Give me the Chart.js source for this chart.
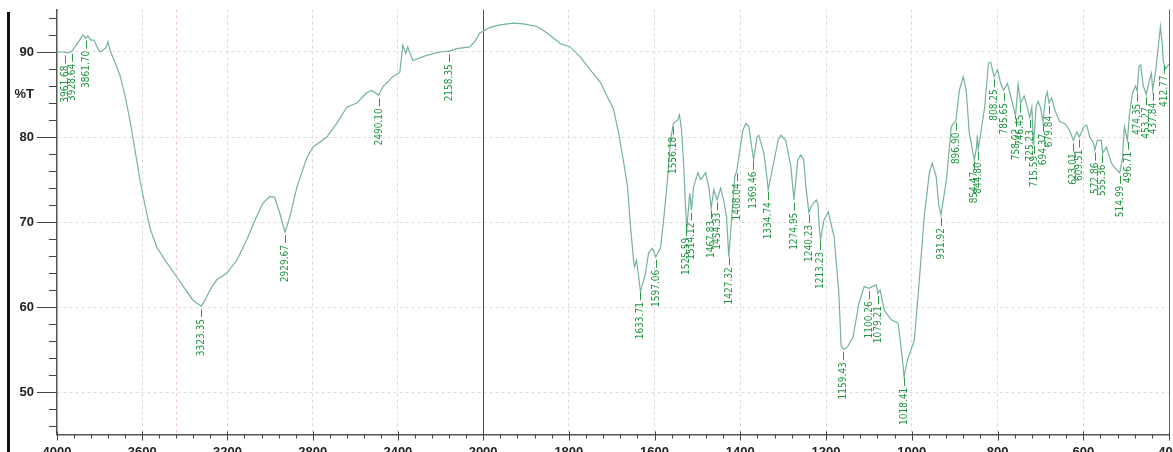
<!DOCTYPE html>
<html>
<head>
<meta charset="utf-8">
<title>IR spectrum</title>
<script src="https://cdn.jsdelivr.net/npm/chart.js@4.4.1/dist/chart.umd.min.js"></script>
<style>
  html, body { margin: 0; padding: 0; background: #fff; overflow: hidden; }
  #wrap { position: relative; width: 1173px; height: 452px; overflow: hidden; }
  #frame { position: absolute; left: 7px; top: 12px; width: 3px; height: 440px; background: #111; }
  canvas { position: absolute; left: 0; top: 0; }
</style>
</head>
<body>
<div id="wrap">
  <div id="frame"></div>
  <canvas id="ir" width="1173" height="472"></canvas>
</div>
<script>
// ---- data (wavenumber cm-1, %T) ----
const wavenumbers = [
  4000, 3977, 3948, 3930, 3902, 3878, 3864, 3855, 3841, 3826, 3812, 3798, 3784, 3770, 3761, 3751,
  3728, 3705, 3681, 3658, 3634, 3611, 3587, 3564, 3531, 3484, 3437, 3390, 3362, 3323, 3305, 3282,
  3250, 3203, 3156, 3109, 3071, 3034, 3001, 2978, 2954, 2930, 2907, 2874, 2827, 2799, 2734, 2687,
  2640, 2593, 2546, 2523, 2490, 2471, 2424, 2391, 2377, 2363, 2354, 2330, 2265, 2204, 2158, 2124,
  2063, 2040, 2016, 1984, 1960, 1930, 1906, 1874, 1850, 1820, 1797, 1773, 1750, 1726, 1710, 1696,
  1684, 1673, 1663, 1656, 1649, 1647, 1642, 1637, 1633, 1621, 1614, 1605, 1597, 1586, 1579, 1570,
  1563, 1556, 1546, 1542, 1537, 1532, 1528, 1525, 1518, 1514, 1509, 1499, 1492, 1481, 1473, 1468,
  1462, 1454, 1446, 1439, 1432, 1427, 1420, 1413, 1408, 1401, 1394, 1387, 1380, 1374, 1369, 1361,
  1357, 1345, 1338, 1335, 1324, 1312, 1305, 1294, 1282, 1275, 1266, 1259, 1252, 1247, 1240, 1235,
  1223, 1219, 1216, 1213, 1205, 1195, 1181, 1170, 1165, 1159, 1150, 1137, 1123, 1111, 1100, 1083,
  1079, 1074, 1064, 1048, 1032, 1025, 1020, 1018, 1010, 994, 983, 971, 959, 952, 943, 937,
  932, 919, 908, 897, 889, 880, 873, 866, 854, 849, 847, 845, 830, 821, 816, 808,
  800, 793, 786, 777, 770, 762, 758, 752, 746, 738, 732, 725, 720, 716, 710, 705,
  700, 694, 688, 684, 680, 674, 665, 655, 643, 632, 623, 615, 609, 599, 592, 585,
  576, 573, 567, 558, 555, 546, 534, 527, 515, 509, 504, 497, 492, 485, 478, 474,
  470, 466, 460, 453, 447, 441, 438, 430, 420, 416, 413, 408, 404, 400
];
const transmittance = [
  90.0, 90.0, 89.9, 90.1, 91.1, 92.0, 91.6, 91.9, 91.4, 91.4, 90.6, 90.0, 90.2, 90.5, 91.2, 90.2,
  88.8, 87.3, 84.9, 82.0, 78.5, 75.0, 72.0, 69.3, 67.0, 65.2, 63.5, 61.8, 60.8, 60.1, 60.8, 62.0,
  63.2, 64.0, 65.5, 67.9, 70.2, 72.2, 73.0, 72.9, 71.0, 68.8, 70.6, 74.1, 77.6, 78.8, 80.0, 81.6,
  83.5, 84.0, 85.2, 85.5, 84.9, 85.9, 87.1, 87.6, 90.8, 89.8, 90.6, 89.0, 89.6, 90.0, 90.1, 90.4,
  90.6, 91.2, 92.2, 92.9, 93.2, 93.4, 93.3, 93.0, 92.2, 91.0, 90.6, 89.4, 87.9, 86.4, 84.7, 83.3,
  80.5, 77.3, 74.1, 69.4, 65.5, 64.7, 65.5, 63.5, 61.8, 64.0, 66.4, 66.9, 65.9, 67.0, 70.2, 74.9,
  79.6, 81.6, 82.0, 82.6, 80.8, 76.5, 72.0, 69.1, 73.4, 71.4, 74.1, 75.8, 75.0, 75.8, 74.0, 71.6,
  73.8, 72.6, 74.0, 72.6, 70.6, 65.9, 70.6, 75.3, 76.1, 78.5, 80.8, 81.6, 81.2, 79.0, 77.3, 80.0,
  80.2, 78.1, 75.3, 73.8, 76.5, 79.6, 80.2, 79.6, 76.5, 72.6, 77.3, 77.9, 77.3, 74.1, 71.1, 71.8,
  72.6, 72.2, 69.4, 67.9, 70.2, 71.2, 68.2, 61.5, 55.5, 55.0, 55.3, 56.5, 60.5, 62.4, 62.2, 62.6,
  61.6, 62.0, 59.6, 58.5, 58.1, 55.3, 52.9, 51.8, 53.8, 56.1, 62.8, 70.6, 75.8, 76.9, 75.3, 72.0,
  70.8, 75.0, 81.2, 82.0, 85.5, 87.1, 85.5, 80.5, 77.3, 78.8, 80.2, 78.5, 83.5, 88.7, 88.8, 87.1,
  87.9, 86.4, 85.5, 86.3, 85.0, 83.3, 82.5, 86.2, 84.0, 84.8, 83.8, 82.3, 83.5, 79.0, 83.6, 84.2,
  83.5, 81.8, 84.6, 85.3, 84.0, 84.6, 83.0, 81.8, 81.6, 80.8, 79.6, 80.6, 80.0, 81.2, 81.4, 80.0,
  79.3, 78.5, 79.6, 79.6, 78.1, 78.8, 76.9, 76.4, 75.8, 77.3, 81.2, 79.6, 82.8, 85.2, 86.0, 85.4,
  88.3, 88.5, 86.0, 85.0, 86.4, 87.5, 85.5, 88.2, 93.0, 91.0, 88.8, 88.0, 88.3, 88.6
];

// peak picks printed on the spectrum
const peakLabels = [
  3961.68, 3928.64, 3861.70, 3323.35, 2929.67, 2490.10, 2158.35,
  1633.71, 1597.06, 1556.18, 1525.59, 1514.12, 1467.83, 1454.33, 1427.32, 1408.04,
  1369.46, 1334.74, 1274.95, 1240.23, 1213.23, 1159.43, 1100.26, 1079.21, 1018.41,
  931.92, 896.90, 854.47, 844.80, 808.25, 785.65, 758.02, 746.45, 725.23, 715.59,
  694.37, 679.84, 623.01, 609.51, 572.86, 555.36, 514.99, 496.71, 474.35, 453.27,
  437.84, 412.77
];

// axis ticks
const xMajorTicks = [4000, 3600, 3200, 2800, 2400, 2000, 1800, 1600, 1400, 1200, 1000, 800, 600, 400];
const yMajorTicks = [50, 60, 70, 80, 90];
const yMinorTicks = [46, 48, 52, 54, 56, 58, 62, 64, 66, 68, 72, 74, 76, 78, 82, 84, 86, 88, 92, 94];
const yUnitTick = 85;   // where the "%T" label sits

// ---- IR abscissa: 4000-2000 compressed to about half the scale of 2000-400 ----
const BREAK = 2000;
const HIGH_SPAN = 994;   // width of the 4000-2000 part, in units of the low part
function irPos(w) { return w >= BREAK ? (4000 - w) * HIGH_SPAN / 2000 : HIGH_SPAN + (BREAK - w); }
const IR_SPAN = irPos(400);

function xTickValues() {
  const out = [];
  for (let i = 0; i < xMajorTicks.length - 1; i++) {
    const a = xMajorTicks[i], b = xMajorTicks[i + 1];
    for (let k = 0; k < 5; k++) out.push(a - (a - b) * k / 5);
  }
  out.push(400);
  return out;
}

class IrScale extends Chart.LinearScale {
  buildTicks() {
    return xTickValues().map(v => ({ value: v, major: xMajorTicks.includes(v) }));
  }
  getPixelForValue(value) {
    return this.getPixelForDecimal(irPos(value) / IR_SPAN);
  }
  getValueForPixel(pixel) {
    const p = this.getDecimalForPixel(pixel) * IR_SPAN;
    return p <= HIGH_SPAN ? 4000 - p * 2000 / HIGH_SPAN : BREAK - (p - HIGH_SPAN);
  }
}
IrScale.id = 'ir';
IrScale.defaults = Chart.LinearScale.defaults;
Chart.register(IrScale);

function tAt(w) {
  for (let i = 0; i < wavenumbers.length - 1; i++) {
    const a = wavenumbers[i], b = wavenumbers[i + 1];
    if (w <= a && w >= b) {
      const f = (a - w) / (a - b);
      return transmittance[i] + f * (transmittance[i + 1] - transmittance[i]);
    }
  }
  return transmittance[transmittance.length - 1];
}

// tick marks, the 2000 split line, frame
const axisDecor = {
  id: 'axisDecor',
  beforeDatasetsDraw(chart) {
    const { ctx, chartArea: area, scales: { x, y } } = chart;
    ctx.save();
    // faint pink cursor line
    ctx.strokeStyle = 'rgba(230,150,190,0.55)';
    ctx.setLineDash([3, 3]);
    ctx.lineWidth = 1;
    const pinkX = Math.round(x.getPixelForValue(3440)) + 0.5;
    ctx.beginPath(); ctx.moveTo(pinkX, area.top); ctx.lineTo(pinkX, area.bottom); ctx.stroke();
    ctx.setLineDash([]);
    // scale change at 2000
    ctx.strokeStyle = '#555';
    const bx = Math.round(x.getPixelForValue(BREAK)) + 0.5;
    ctx.beginPath(); ctx.moveTo(bx, area.top); ctx.lineTo(bx, area.bottom + 4); ctx.stroke();
    // right frame
    ctx.strokeStyle = '#666';
    ctx.beginPath(); ctx.moveTo(area.right + 0.5, area.top); ctx.lineTo(area.right + 0.5, area.bottom); ctx.stroke();
    // x tick marks
    ctx.strokeStyle = '#444';
    x.ticks.forEach(t => {
      const px = Math.round(x.getPixelForValue(t.value)) + 0.5;
      ctx.beginPath();
      ctx.moveTo(px, area.bottom - (t.major ? 3 : 0));
      ctx.lineTo(px, area.bottom + (t.major ? 6 : 4));
      ctx.stroke();
    });
    // y tick marks
    y.ticks.forEach(t => {
      if (t.value === yUnitTick) return;
      const py = Math.round(y.getPixelForValue(t.value)) + 0.5;
      const len = yMajorTicks.includes(t.value) ? 20 : 8;
      ctx.beginPath(); ctx.moveTo(area.left - len, py); ctx.lineTo(area.left, py); ctx.stroke();
    });
    ctx.restore();
  }
};

// rotated peak labels under each pick
const peakText = {
  id: 'peakText',
  afterDatasetsDraw(chart) {
    const { ctx, scales: { x, y } } = chart;
    ctx.save();
    ctx.strokeStyle = '#2a9a45';
    ctx.fillStyle = '#1f9440';
    ctx.lineWidth = 1;
    ctx.font = '10px "Liberation Sans Narrow", "DejaVu Sans Condensed", "Liberation Sans", sans-serif';
    ctx.textAlign = 'right';
    ctx.textBaseline = 'middle';
    peakLabels.forEach(w => {
      const px = Math.round(x.getPixelForValue(w)) + 0.5;
      const py = y.getPixelForValue(tAt(w));
      ctx.beginPath(); ctx.moveTo(px, py + 3); ctx.lineTo(px, py + 11); ctx.stroke();
      ctx.save();
      ctx.translate(px, py + 13);
      ctx.rotate(-Math.PI / 2);
      ctx.fillText(w.toFixed(2), 0, 0);
      ctx.restore();
    });
    ctx.restore();
  }
};

new Chart(document.getElementById('ir'), {
  type: 'line',
  data: {
    datasets: [{
      data: wavenumbers.map((w, i) => ({ x: w, y: transmittance[i] })),
      borderColor: '#74b39c',
      borderWidth: 1.2,
      pointRadius: 0,
      tension: 0,
      fill: false
    }]
  },
  options: {
    responsive: false,
    animation: false,
    events: [],
    layout: { padding: { left: 0, right: 4, top: 9.5, bottom: 0 } },
    plugins: { legend: { display: false }, tooltip: { enabled: false } },
    scales: {
      x: {
        type: 'ir',
        min: 400,
        max: 4000,
        afterFit: s => { s.height = 37.5; s.paddingLeft = 0; s.paddingRight = 0; },
        grid: {
          drawTicks: false,
          color: c => (c.tick && xMajorTicks.includes(c.tick.value) && c.tick.value !== 4000 &&
                       c.tick.value !== 400 && c.tick.value !== BREAK) ? '#dcdcdc' : 'rgba(0,0,0,0)'
        },
        border: { color: '#555', width: 1.5, dash: [3, 3] },
        ticks: {
          autoSkip: false,
          maxRotation: 0,
          padding: 10,
          color: '#222',
          font: { family: '"Liberation Sans", Arial, sans-serif', size: 13, weight: 'bold' },
          callback: v => xMajorTicks.includes(v) ? String(v) : ''
        }
      },
      y: {
        min: 45,
        max: 95,
        afterFit: s => { s.width = 57; s.paddingTop = 0; s.paddingBottom = 0; },
        afterBuildTicks: s => {
          s.ticks = yMajorTicks.concat(yMinorTicks, [yUnitTick]).sort((a, b) => a - b).map(v => ({ value: v }));
        },
        grid: {
          drawTicks: false,
          color: c => (c.tick && yMajorTicks.includes(c.tick.value)) ? '#dcdcdc' : 'rgba(0,0,0,0)'
        },
        border: { color: '#555', width: 1.5, dash: [3, 3] },
        ticks: {
          autoSkip: false,
          padding: 23,
          color: '#222',
          font: { family: '"Liberation Sans", Arial, sans-serif', size: 13, weight: 'bold' },
          callback: v => v === yUnitTick ? '%T' : (yMajorTicks.includes(v) ? String(v) : '')
        }
      }
    }
  },
  plugins: [axisDecor, peakText]
});
</script>
</body>
</html>
